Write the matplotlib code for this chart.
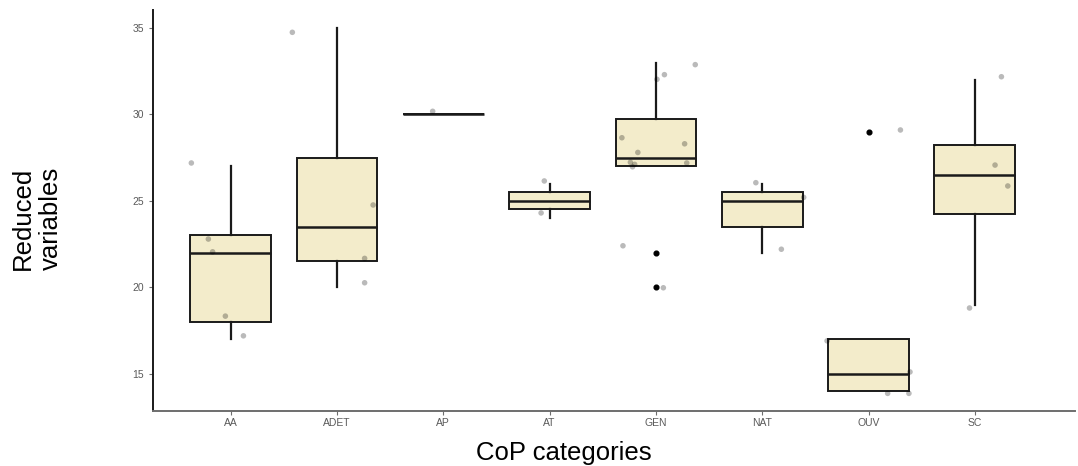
import matplotlib.pyplot as plt
import numpy as np

plt.rcParams["font.family"] = ["Liberation Sans", "DejaVu Sans"]

# categories and box statistics
categories = ["AA", "ADET", "AP", "AT", "GEN", "NAT", "OUV", "SC"]
q1 = [18.0, 21.5, 30.0, 24.5, 27.0, 23.5, 14.0, 24.25]
median = [22.0, 23.5, 30.0, 25.0, 27.5, 25.0, 15.0, 26.5]
q3 = [23.0, 27.5, 30.0, 25.5, 29.75, 25.5, 17.0, 28.25]
whisker_low = [17.0, 20.0, 30.0, 24.0, 27.0, 22.0, 14.0, 19.0]
whisker_high = [27.0, 35.0, 30.0, 26.0, 33.0, 26.0, 17.0, 32.0]
outliers = [[], [], [], [], [22.0, 20.0], [], [29.0], []]

# jittered observations (x offset from category centre, value)
jitter_x = [
    [-0.37, -0.21, -0.17, -0.05, 0.12],
    [-0.42, 0.34, 0.26, 0.26],
    [-0.10],
    [-0.05, -0.08],
    [0.37, 0.08, 0.01, -0.32, 0.27, -0.17, -0.24, -0.20, -0.22, 0.29, -0.31, 0.07],
    [-0.06, 0.39, 0.18],
    [0.30, -0.39, 0.39, 0.18, 0.38],
    [0.25, 0.19, 0.31, -0.05],
]
jitter_y = [
    [27.19, 22.79, 22.05, 18.33, 17.19],
    [34.75, 24.76, 21.67, 20.26],
    [30.18],
    [26.15, 24.3],
    [32.88, 32.3, 32.03, 28.65, 28.3, 27.8, 27.23, 27.11, 26.97, 27.19, 22.4, 19.97],
    [26.05, 25.2, 22.2],
    [29.1, 16.9, 15.1, 13.86, 13.86],
    [32.18, 27.07, 25.86, 18.8],
]

stats = []
for i, cat in enumerate(categories):
    stats.append({
        "label": cat,
        "q1": q1[i],
        "med": median[i],
        "q3": q3[i],
        "whislo": whisker_low[i],
        "whishi": whisker_high[i],
        "fliers": outliers[i],
    })

fig = plt.figure(figsize=(10.78, 4.66), dpi=100)
ax = fig.add_axes([0.142, 0.118, 0.855, 0.8605])

positions = np.arange(1, len(categories) + 1)
ax.bxp(
    stats,
    positions=positions,
    widths=0.76,
    patch_artist=True,
    showcaps=False,
    boxprops=dict(facecolor="#F3ECCB", edgecolor="#1a1a1a", linewidth=1.4),
    medianprops=dict(color="#1a1a1a", linewidth=1.8),
    whiskerprops=dict(color="#1a1a1a", linewidth=1.6),
    flierprops=dict(marker="o", markerfacecolor="black", markeredgecolor="black",
                    markersize=3.4, linestyle="none"),
)

# jittered points on top
for i in range(len(categories)):
    xs = positions[i] + np.array(jitter_x[i])
    ax.scatter(xs, jitter_y[i], s=16, color="black", alpha=0.27,
               edgecolors="none", zorder=4)

ax.set_xlim(0.27, 8.94)
ax.set_ylim(12.84, 36.04)
ax.set_yticks([15, 20, 25, 30, 35])
ax.set_xticks(positions)
ax.set_xticklabels(categories)

for side in ["top", "right"]:
    ax.spines[side].set_visible(False)
ax.spines["left"].set_color("#1a1a1a")
ax.spines["left"].set_linewidth(1.4)
ax.spines["bottom"].set_color("#6e6e6e")
ax.spines["bottom"].set_linewidth(1.4)

ax.tick_params(axis="both", colors="#6e6e6e", labelcolor="#5a5a5a",
               labelsize=7.5, length=3, width=0.8)
ax.tick_params(axis="x", pad=2)

ax.set_xlabel("CoP categories", fontsize=18.5)
ax.set_ylabel("Reduced\nvariables", fontsize=18.5)
ax.xaxis.set_label_coords(0.446, -0.075)
ax.yaxis.set_label_coords(-0.098, 0.48)

fig.savefig("out.png", dpi=100)
